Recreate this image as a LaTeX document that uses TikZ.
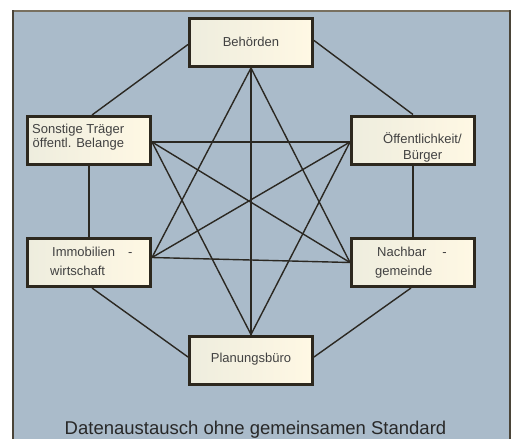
\documentclass[tikz,border=0pt]{standalone}
\usepackage{fontspec}
\setmainfont{Liberation Sans}
\usetikzlibrary{calc,backgrounds}
\definecolor{bg}{RGB}{170,187,202}
\definecolor{edge}{RGB}{43,40,34}
\definecolor{boxline}{RGB}{45,40,30}
\definecolor{creamL}{RGB}{238,237,222}
\definecolor{creamR}{RGB}{255,248,228}
\definecolor{txt}{RGB}{65,65,65}
\definecolor{captxt}{RGB}{40,40,40}
\definecolor{frameD}{RGB}{74,68,56}
\definecolor{frameT}{RGB}{120,112,96}
\begin{document}
\begin{tikzpicture}[x=1pt,y=-1pt,
  box/.style={draw=boxline, line width=3pt, left color=creamL, right color=creamR,
    minimum width=123pt, minimum height=48pt, inner sep=0pt},
  conn/.style={draw=edge, line width=1.4pt},
  lbl/.style={font=\fontsize{13}{15}\selectfont, text=txt, inner sep=0pt}]
\useasboundingbox (0,0) rectangle (513,439);

% boxes
\node[box] (beh)  at (251,42.5)  {};
\node[box] (son)  at (89,140.5) {};
\node[box] (oef)  at (413,140)   {};
\node[box] (imm)  at (89,262.5) {};
\node[box] (nach) at (413,262.5) {};
\node[box] (plan) at (251,360)   {};

% labels
\node[lbl, anchor=base] (behT) at (251,46) {Behörden};
\node[lbl, anchor=base west] (sonT1) at (32,133) {Sonstige Träger};
\node[lbl, anchor=base west] (sonT2) at (32.5,147) {öffentl. Belange};
\node[lbl, anchor=base west] (oefT1) at (383,143) {Öffentlichkeit/};
\node[lbl, anchor=base west] (oefT2) at (403,159) {Bürger};
\node[lbl, anchor=base west] (immT1) at (52,256) {Immobilien\hspace{13pt}-};
\node[lbl, anchor=base west] (immT2) at (50,275) {wirtschaft};
\node[lbl, anchor=base west] (nachT1) at (377,256) {Nachbar\hspace{16pt}-};
\node[lbl, anchor=base west] (nachT2) at (375,275) {gemeinde};
\node[lbl, anchor=base] (planT) at (251,362) {Planungsbüro};
\node[font=\fontsize{18.5}{22}\selectfont, text=captxt, anchor=base, inner sep=0pt]
  (cap) at (255.5,434) {Datenaustausch ohne gemeinsamen Standard};

\begin{pgfonlayer}{background}
  \fill[bg] (12,10) rectangle (510,439);
  \draw[line width=1.5pt, frameT] (12,10.75) -- (510,10.75);
  \draw[line width=2pt, frameD] (13,10) -- (13,439);
  \draw[line width=2pt, frameD] (509.5,10) -- (509.5,439);

  \coordinate (sonN) at ($(son.north)+(3,0)$);
  \coordinate (immE) at ($(imm.east)+(0,-5)$);
  \coordinate (behE) at ($(beh.east)+(0,-2)$);
  \coordinate (behW) at ($(beh.west)+(0,2)$);
  \coordinate (sonE) at ($(son.east)+(0,1.5)$);
  \coordinate (oefW) at ($(oef.west)+(0,2)$);
  \coordinate (immS) at ($(imm.south)+(3,0)$);
  \coordinate (planW) at ($(plan.west)+(0,-3)$);
  \coordinate (planE) at ($(plan.east)+(0,-3)$);
  \coordinate (nachS) at ($(nach.south)+(-2,0)$);

  % outer hexagon
  \draw[conn] (behW) -- (sonN);
  \draw[conn] (behE) -- (oef.north);
  \draw[conn] (son.south) -- (imm.north);
  \draw[conn] (oef.south) -- (nach.north);
  \draw[conn] (immS) -- (planW);
  \draw[conn] (planE) -- (nachS);
  % diagonals
  \draw[conn] (beh.south) -- (plan.north);
  \draw[conn] (beh.south) -- (immE);
  \draw[conn] (beh.south) -- (nach.west);
  \draw[conn] (sonE) -- (oefW);
  \draw[conn] (sonE) -- (nach.west);
  \draw[conn] (sonE) -- (plan.north);
  \draw[conn] (oefW) -- (immE);
  \draw[conn] (oefW) -- (plan.north);
  \draw[conn] (immE) -- (nach.west);
\end{pgfonlayer}
\end{tikzpicture}
\end{document}
